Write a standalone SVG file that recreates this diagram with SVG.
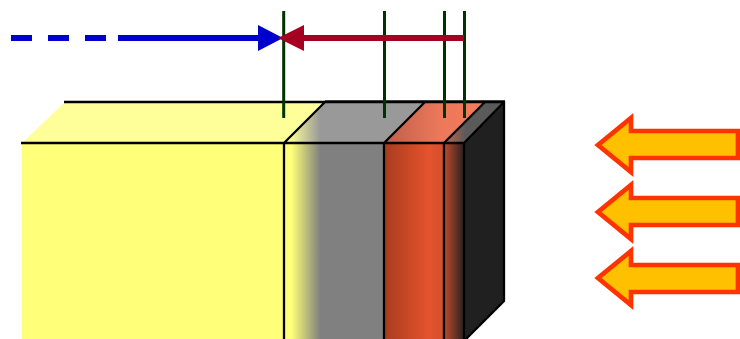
<svg xmlns="http://www.w3.org/2000/svg" width="740" height="339" viewBox="0 0 740 339">
<style>
.edge{fill:none;stroke:#000;stroke-width:2.3}
.tick{fill:none;stroke:#003300;stroke-width:3}
.beam{stroke-width:5.8;fill:none}
.flow{fill:#ffc000;stroke:#ff3300;stroke-width:4.7;stroke-miterlimit:10}
</style>
<defs>
<linearGradient id="front" gradientUnits="userSpaceOnUse" x1="284" y1="0" x2="465" y2="0">
<stop offset="0" stop-color="#ffff7a"/>
<stop offset="0.04" stop-color="#ffff7a"/>
<stop offset="0.2" stop-color="#808080"/>
<stop offset="0.552" stop-color="#808080"/>
<stop offset="0.553" stop-color="#a83c1e"/>
<stop offset="0.8" stop-color="#e5532d"/>
<stop offset="0.87" stop-color="#d4502e"/>
<stop offset="1" stop-color="#202020"/>
</linearGradient>
<linearGradient id="topGray" gradientUnits="userSpaceOnUse" x1="284" y1="0" x2="425" y2="0">
<stop offset="0" stop-color="#ffff99"/>
<stop offset="0.04" stop-color="#ffff99"/>
<stop offset="0.255" stop-color="#999999"/>
<stop offset="1" stop-color="#999999"/>
</linearGradient>
<linearGradient id="topOrange" gradientUnits="userSpaceOnUse" x1="384" y1="0" x2="485" y2="0">
<stop offset="0" stop-color="#bd5f48"/>
<stop offset="0.55" stop-color="#ec785a"/>
<stop offset="1" stop-color="#f47c5c"/>
</linearGradient>
<linearGradient id="topDark" gradientUnits="userSpaceOnUse" x1="444" y1="0" x2="504" y2="0">
<stop offset="0" stop-color="#c8654c"/>
<stop offset="0.36" stop-color="#5a5a5a"/>
<stop offset="1" stop-color="#5a5a5a"/>
</linearGradient>
</defs>
<g id="block">
<polygon points="22,143 65,102 325,102 284,143" fill="#ffff99"/>
<rect x="22" y="143" width="262" height="196" fill="#ffff7a"/>
<polygon points="284,143 325,102 425,102 384,143" fill="url(#topGray)"/>
<polygon points="384,143 425,102 485,102 444,143" fill="url(#topOrange)"/>
<polygon points="444,143 485,102 504,102 464,143" fill="url(#topDark)"/>
<rect x="284" y="142" width="181" height="197" fill="url(#front)"/>
<polygon points="464,142 504,102 504,301 464,341" fill="#202020"/>
<path d="M325,100.5H505" fill="none" stroke="#555" stroke-width="1"/>
<path class="edge" d="M64,102H504V301L466,339M21,143H464M284,143L325,102M384,143L425,102M444,143L485,102M464,143L504,102M284,143V339M384,143V339M444,143V339M464,143V339"/>
</g>
<g id="connectors">
<path class="tick" d="M283.7,11V118M384.5,11V118M444.5,11V118M464.5,11V118"/>
<path class="beam" stroke="#0000cc" d="M11,38H32M48,38H69M85,38H106M118,38H260"/>
<polygon points="258,25 283,38 258,51" fill="#0000cc"/>
<path class="beam" stroke="#a50021" d="M302,38H464"/>
<polygon points="304,25 278,38 304,51" fill="#a50021"/>
</g>
<g id="flow-arrows">
<polygon id="flow1" class="flow" points="738,131 631,131 631,118 598,145 631,172 631,158 738,158"/>
<polygon id="flow2" class="flow" points="738,198 631,198 631,185 598,212 631,239 631,225 738,225"/>
<polygon id="flow3" class="flow" points="738,265 631,265 631,251 598,278 631,305 631,292 738,292"/>
</g>
</svg>
